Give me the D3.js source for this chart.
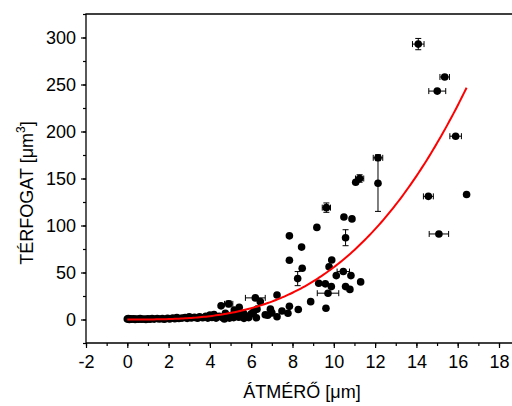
<!DOCTYPE html>
<html>
<head>
<meta charset="utf-8">
<script src="https://cdn.jsdelivr.net/npm/d3@7"></script>
<style>
  body { margin: 0; background: #fff; }
  text { font-family: "Liberation Sans", Arial, sans-serif; fill: #000; }
</style>
</head>
<body>
<div id="chart"></div>
<script>
// plain measurements: diameter [um], volume [um^3]
const diameter = [0.00, 0.05, 0.10, 0.15, 0.22, 0.30, 0.38, 0.45, 0.55, 0.62, 0.70, 0.80, 0.90, 1.00, 1.10, 1.20, 1.30, 1.45, 1.55, 1.70,
    1.80, 1.95, 2.05, 2.20, 2.30, 2.40, 2.50, 2.65, 2.80, 2.90, 3.00, 3.10, 3.25, 3.40, 3.50, 3.65, 3.80, 3.90, 4.00, 4.10,
    4.20, 4.30, 4.45, 4.60, 4.70, 4.80, 4.95, 5.05, 5.15, 5.30, 5.40, 5.55, 5.65, 5.75, 5.88, 6.00, 6.25,
    4.54, 4.75, 5.18, 5.42, 5.63, 6.12, 6.28, 6.44, 6.68, 6.80, 6.93, 7.00, 7.25, 7.25, 7.49, 7.78, 7.85, 7.85, 7.85,
    8.28, 8.44, 8.47, 8.88, 9.18, 9.27, 9.59, 9.62, 9.77, 9.88, 9.90, 10.12, 10.49, 10.57, 10.78, 10.83, 10.88, 11.06,
    11.30, 16.43]
const volume = [0.4, 1.0, 0.1, 0.7, 0.2, 0.8, 0.1, 0.5, 0.2, 0.9, 0.3, 0.6, 0.1, 0.7, 0.3, 1.0, 0.4, 1.1, 0.5, 0.9,
    0.3, 1.3, 0.6, 1.6, 0.8, 2.0, 1.0, 1.5, 2.2, 1.2, 2.8, 1.6, 2.3, 1.4, 3.0, 1.8, 3.5, 1.5, 4.8, 2.2,
    5.2, 1.5, 3.5, 2.0, 0.6, 3.2, 1.5, 4.5, 2.0, 6.0, 2.5, 4.2, 1.2, 3.6, 2.0, 6.0, 1.8,
    14.5, 6.7, 10, 13, 6.7, 8.5, 11, 19, 5, 4.6, 11, 7, 26, 3, 9, 6.7, 14, 63, 89,
    10.6, 77, 54.5, 19, 98, 38.6, 37.9, 12, 56, 35, 63.3, 46.7, 109, 35, 32, 46.7, 107, 146,
    40, 133]

// measurements with error bars
const errDiameter = [4.91, 6.20, 8.25, 9.64, 9.72, 10.46, 10.57, 11.25, 12.14, 12.14, 14.09, 14.58, 15.01, 15.09, 15.37, 15.90]
const errVolume = [16.6, 23, 43.5, 119, 28, 51, 87, 150, 172, 145, 293, 131, 243, 91, 258, 195]
const errDx = [0.2, 0.48, 0, 0.2, 0.52, 0.3, 0, 0.2, 0.23, 0, 0.28, 0.24, 0.41, 0.47, 0.23, 0.28]
const errDy = [3, 0, 7.5, 5, 0, 0, 8.5, 4, 3, 30, 6, 0, 0, 0, 2, 0]

// fitted curve V = a * d^b
const fitA = 0.0556
const fitB = 3
const fitRange = [0, 16.43]

const xTicks = [-2, 0, 2, 4, 6, 8, 10, 12, 14, 16, 18]
const yTicks = [0, 50, 100, 150, 200, 250, 300]

const width = 512
const height = 406
const margin = { top: 14, left: 86, bottom: 343 }

const svg = d3.select("#chart")
    .append("svg")
    .attr("width", width)
    .attr("height", height)

const x = d3.scaleLinear().domain([-2, 18]).range([margin.left, 499])
const y = d3.scaleLinear().domain([-25, 325]).range([margin.bottom, margin.top])

// minor ticks
const xMinor = d3.axisBottom(x).tickValues(d3.range(-2, 19, 1)).tickSize(3).tickFormat("").tickSizeOuter(0)
const yMinor = d3.axisLeft(y).tickValues(d3.range(-25, 326, 25)).tickSize(3).tickFormat("").tickSizeOuter(0)
svg.append("g").attr("transform", `translate(0,${margin.bottom})`).call(xMinor).call(g => g.select(".domain").remove())
svg.append("g").attr("transform", `translate(${margin.left},0)`).call(yMinor).call(g => g.select(".domain").remove())

const xAxis = d3.axisBottom(x).tickValues(xTicks).tickSize(5).tickPadding(7).tickSizeOuter(0)
    .tickFormat(d => String(d))
const yAxis = d3.axisLeft(y).tickValues(yTicks).tickSize(5).tickPadding(5).tickSizeOuter(0)
    .tickFormat(d => String(d))

svg.append("g")
    .attr("transform", `translate(0,${margin.bottom})`)
    .call(xAxis)
    .call(g => g.select(".domain").remove())
    .selectAll("text").style("font-size", "18px")

svg.append("g")
    .attr("transform", `translate(${margin.left},0)`)
    .call(yAxis)
    .call(g => g.select(".domain").remove())
    .selectAll("text").style("font-size", "18px")

svg.selectAll(".tick line").attr("stroke", "#000").attr("stroke-width", 1.2)

// frame lines (right side runs off the page)
svg.append("path")
    .attr("d", `M${width},${margin.top}H${margin.left}V${margin.bottom}H${width}`)
    .attr("fill", "none")
    .attr("stroke", "#000")
    .attr("stroke-width", 1.3)

// error bars
const errs = errDiameter.map((d, i) => ({ x: d, y: errVolume[i], dx: errDx[i], dy: errDy[i] }))
const eb = svg.append("g").attr("stroke", "#000").attr("stroke-width", 1)
const cap = 3
errs.filter(d => d.dx > 0).forEach(d => {
    const cy = y(d.y), x0 = x(d.x - d.dx), x1 = x(d.x + d.dx)
    eb.append("path").attr("d", `M${x0},${cy}H${x1}M${x0},${cy - cap}V${cy + cap}M${x1},${cy - cap}V${cy + cap}`)
})
errs.filter(d => d.dy > 0).forEach(d => {
    const cx = x(d.x), y0 = y(d.y - d.dy), y1 = y(d.y + d.dy)
    eb.append("path").attr("d", `M${cx},${y0}V${y1}M${cx - cap},${y0}H${cx + cap}M${cx - cap},${y1}H${cx + cap}`)
})

// points
const pts = diameter.map((d, i) => ({ x: d, y: volume[i] })).concat(errs)
svg.append("g")
    .selectAll("circle")
    .data(pts)
    .join("circle")
    .attr("cx", d => x(d.x))
    .attr("cy", d => y(d.y))
    .attr("r", 3.8)
    .attr("fill", "#000")

// fit curve
const fitX = d3.range(fitRange[0], fitRange[1], 0.1).concat([fitRange[1]])
const line = d3.line().x(d => x(d)).y(d => y(fitA * Math.pow(d, fitB)))
svg.append("path")
    .datum(fitX)
    .attr("d", line)
    .attr("fill", "none")
    .attr("stroke", "#ff0000")
    .attr("stroke-width", 2)

// titles
svg.append("text")
    .attr("x", 302)
    .attr("y", 398)
    .attr("text-anchor", "middle")
    .style("font-size", "18px")
    .text("ÁTMÉRŐ [μm]")

const yt = svg.append("text")
    .attr("transform", "translate(33,193) rotate(-90)")
    .attr("text-anchor", "middle")
    .style("font-size", "18px")
yt.append("tspan").text("TÉRFOGAT [μm")
yt.append("tspan").attr("dy", -8).style("font-size", "12px").text("3")
yt.append("tspan").attr("dy", 8).text("]")
</script>
</body>
</html>
